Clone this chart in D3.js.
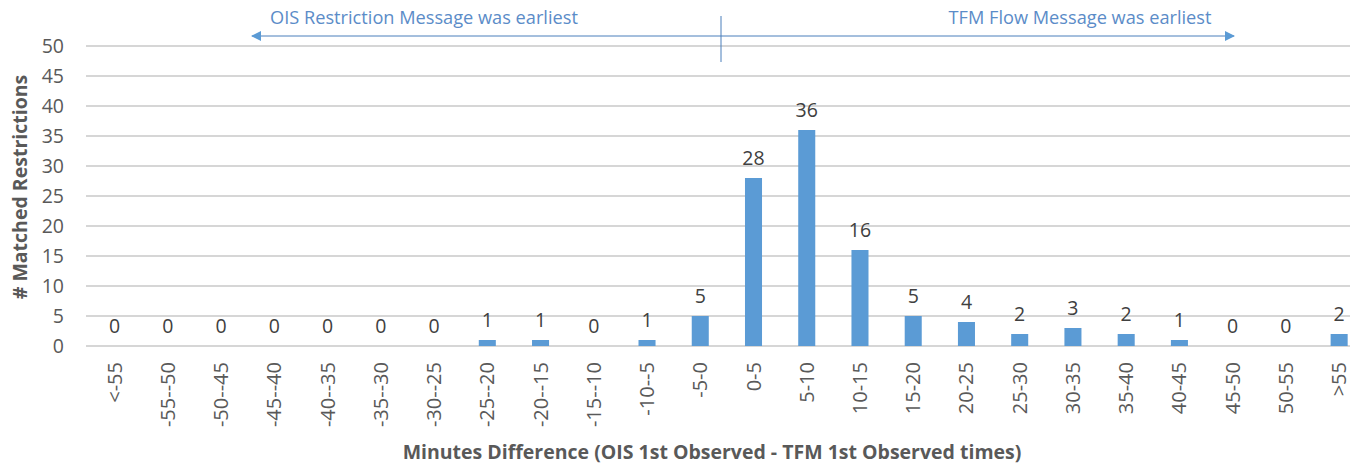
<!DOCTYPE html>
<html>
<head>
<meta charset="utf-8">
<script src="https://cdn.jsdelivr.net/npm/d3@7"></script>
<style>
  body { margin: 0; background: #fff; }
  svg text { font-family: "Open Sans", sans-serif; }
</style>
</head>
<body>
<div id="chart"></div>
<script>
// bins of minutes difference
const categories = ["<-55", "-55--50", "-50--45", "-45--40", "-40--35", "-35--30", "-30--25",
    "-25--20", "-20--15", "-15--10", "-10--5", "-5-0", "0-5", "5-10", "10-15", "15-20",
    "20-25", "25-30", "30-35", "35-40", "40-45", "45-50", "50-55", ">55"];
const counts = [0, 0, 0, 0, 0, 0, 0, 1, 1, 0, 1, 5, 28, 36, 16, 5, 4, 2, 3, 2, 1, 0, 0, 2];
const yTicks = [0, 5, 10, 15, 20, 25, 30, 35, 40, 45, 50];

const w = 1350, h = 464;
const plotLeft = 88, plotTop = 46, plotBottom = 346;
const step = 53.24; // plot is wider than the window, right side is cut

const svg = d3.select("#chart")
    .append("svg")
    .attr("width", w)
    .attr("height", h);

const x = d3.scaleBand()
    .domain(categories)
    .range([plotLeft, plotLeft + step * categories.length])
    .paddingInner(0.68)
    .paddingOuter(0.34);

const y = d3.scaleLinear()
    .domain([0, 50])
    .range([plotBottom, plotTop]);

// gridlines
svg.append("g")
    .selectAll("line")
    .data(yTicks)
    .enter().append("line")
    .attr("x1", plotLeft - 2)
    .attr("x2", w)
    .attr("y1", d => y(d))
    .attr("y2", d => y(d))
    .style("stroke", "#c8c8c8")
    .style("stroke-width", 1.5);

// y axis labels
const yAxis = svg.append("g")
    .attr("transform", "translate(" + 64 + ",0)")
    .call(d3.axisLeft(y).tickValues(yTicks).tickSize(0).tickPadding(0));
yAxis.select(".domain").remove();
yAxis.selectAll("text")
    .style("font-size", "19.5px")
    .style("fill", "#595959");

// bars
svg.append("g")
    .selectAll("rect")
    .data(counts)
    .enter().append("rect")
    .attr("x", (d, i) => x(categories[i]))
    .attr("y", d => y(d))
    .attr("width", x.bandwidth())
    .attr("height", d => y(0) - y(d))
    .style("fill", "#5b9bd5");

// value labels
svg.append("g")
    .selectAll("text")
    .data(counts)
    .enter().append("text")
    .attr("x", (d, i) => x(categories[i]) + x.bandwidth() / 2)
    .attr("y", d => y(d) - 13)
    .attr("text-anchor", "middle")
    .style("font-size", "19.5px")
    .style("fill", "#404040")
    .text(d => d);

// x labels, rotated
const xAxis = svg.append("g")
    .attr("transform", "translate(0," + (plotBottom + 16) + ")")
    .call(d3.axisBottom(x).tickSize(0).tickPadding(0));
xAxis.select(".domain").remove();
xAxis.selectAll("text")
    .attr("transform", "rotate(-90)")
    .attr("text-anchor", "end")
    .attr("x", 0)
    .attr("y", 0)
    .attr("dy", "0.35em")
    .style("font-size", "20px")
    .style("fill", "#595959");

// axis titles
svg.append("text")
    .attr("x", 712)
    .attr("y", 459)
    .attr("text-anchor", "middle")
    .style("font-size", "19.5px")
    .style("font-weight", "bold")
    .style("fill", "#595959")
    .text("Minutes Difference (OIS 1st Observed - TFM 1st Observed times)");

svg.append("text")
    .attr("transform", "translate(27,187) rotate(-90)")
    .attr("text-anchor", "middle")
    .style("font-size", "19.5px")
    .style("font-weight", "bold")
    .style("fill", "#595959")
    .text("# Matched Restrictions");

// annotation arrows
const blue = "#4a7ebb";
const defs = svg.append("defs");
defs.append("marker")
    .attr("id", "head")
    .attr("viewBox", "0 0 10 10")
    .attr("refX", 9)
    .attr("refY", 5)
    .attr("markerWidth", 10)
    .attr("markerHeight", 10)
    .attr("markerUnits", "userSpaceOnUse")
    .attr("orient", "auto")
    .append("path")
    .attr("d", "M0,0 L10,5 L0,10 z")
    .style("fill", "#5b9bd5");

svg.append("line")
    .attr("x1", 721).attr("x2", 252)
    .attr("y1", 36).attr("y2", 36)
    .style("stroke", blue)
    .attr("marker-end", "url(#head)");
svg.append("line")
    .attr("x1", 721).attr("x2", 1234)
    .attr("y1", 36).attr("y2", 36)
    .style("stroke", blue)
    .attr("marker-end", "url(#head)");
svg.append("line")
    .attr("x1", 721).attr("x2", 721)
    .attr("y1", 16).attr("y2", 62)
    .style("stroke", blue);

svg.append("text")
    .attr("x", 424)
    .attr("y", 24)
    .attr("text-anchor", "middle")
    .style("font-size", "18.2px")
    .style("fill", "#5b8cc8")
    .text("OIS Restriction Message was earliest");
svg.append("text")
    .attr("x", 1080)
    .attr("y", 24)
    .attr("text-anchor", "middle")
    .style("font-size", "18.2px")
    .style("fill", "#5b8cc8")
    .text("TFM Flow Message was earliest");
</script>
</body>
</html>
